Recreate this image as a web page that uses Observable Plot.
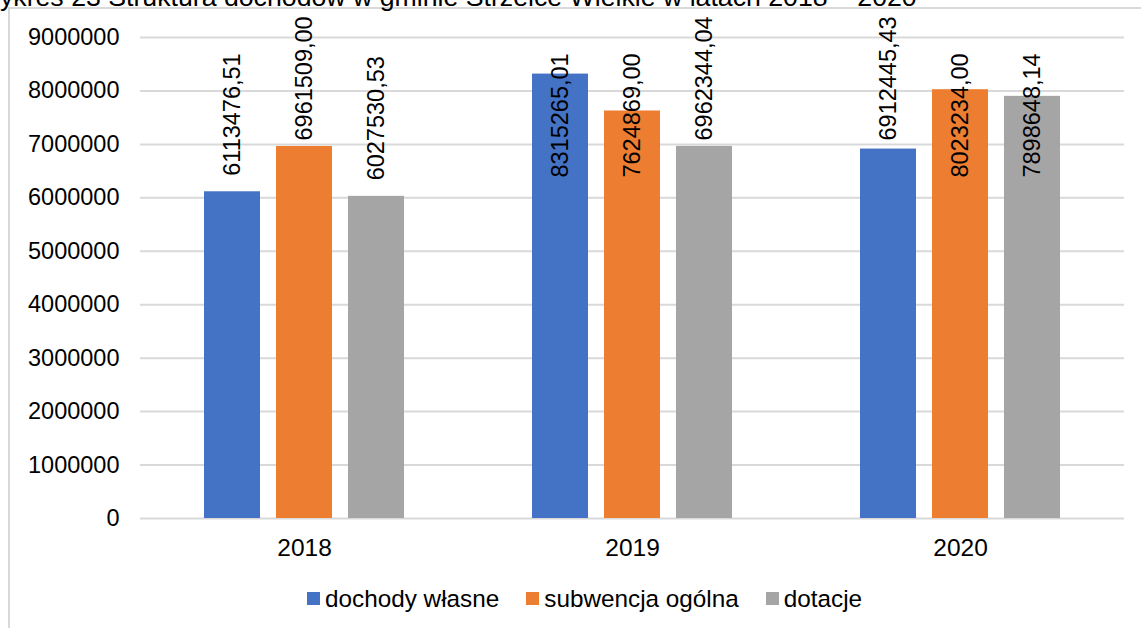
<!DOCTYPE html>
<html>
<head>
<meta charset="utf-8">
<script src="https://cdn.jsdelivr.net/npm/d3@7"></script>
<script src="https://cdn.jsdelivr.net/npm/@observablehq/plot@0.6"></script>
<style>
  html, body { margin: 0; padding: 0; background: #fff; overflow: hidden; }
  body { width: 1141px; height: 628px; position: relative; font-family: "Liberation Sans", Arial, sans-serif; }
  #title { position: absolute; left: -25px; top: -16.5px; font-size: 26.7px; line-height: 26.5px; white-space: nowrap; color: #000; }
  #frame { position: absolute; left: 8px; top: 7px; width: 1200px; height: 700px; border: 2px solid #d9d9d9; box-sizing: border-box; }
  #chart { position: absolute; left: 0; top: 0; }
  #chart svg { display: block; }
  #legend { position: absolute; left: 307px; top: 582px; }
  #legend [class$="-swatch"] { margin-right: 27px !important; }
  #legend [class$="-swatch"] > svg { margin-right: 5px !important; }
</style>
</head>
<body>
<div id="frame"></div>
<div id="title">Wykres 23 Struktura dochodów w gminie Strzelce Wielkie w latach 2018 – 2020</div>
<div id="chart"></div>
<div id="legend"></div>
<script>
const years = ["2018", "2019", "2020"];
const series = ["dochody własne", "subwencja ogólna", "dotacje"];
const dochodyWlasne = [6113476.51, 8315265.01, 6912445.43];
const subwencjaOgolna = [6961509.00, 7624869.00, 8023234.00];
const dotacje = [6027530.53, 6962344.04, 7898648.14];
const yTicks = [0, 1000000, 2000000, 3000000, 4000000, 5000000, 6000000, 7000000, 8000000, 9000000];
const colors = ["#4472C4", "#ED7D31", "#A5A5A5"];

const seriesValues = [dochodyWlasne, subwencjaOgolna, dotacje];
const data = [];
years.forEach((y, i) => {
  series.forEach((s, j) => {
    data.push({year: y, series: s, value: seriesValues[j][i]});
  });
});

const W = 1141, H = 565, mT = 37, mB = 47, mL = 139, mR = 17;
const yMax = 9000000;
const FS = 23.5;
const pxPerUnit = (H - mT - mB) / yMax;
// Excel-like label placement: outside end, pulled down if it would leave the plot area,
// put inside the bar when it cannot stay outside.
const gapPx = 16, labelLenPx = 124, topLimitPx = 16;
const topLimitVal = (H - mB - topLimitPx) / pxPerUnit;
function labelStart(v) {
  const natural = v + gapPx / pxPerUnit;
  const len = labelLenPx / pxPerUnit;
  if (natural + len <= topLimitVal) return natural;
  const clamped = topLimitVal - len;
  if (clamped >= v) return clamped;
  return 6380000;
}
const fmt = v => v.toFixed(2).replace(".", ",");

const chart = Plot.plot({
  width: W, height: H,
  marginTop: mT, marginBottom: mB, marginLeft: mL, marginRight: mR,
  style: {fontSize: FS + "px", fontFamily: "'Liberation Sans', Arial, sans-serif", color: "#000", background: "transparent"},
  fx: {domain: years, padding: 0, label: null},
  x: {domain: series, paddingInner: 0.22, paddingOuter: 0.87, axis: null},
  y: {domain: [0, yMax], ticks: yTicks, tickFormat: d3.format("d"), label: null, tickSize: 0, tickPadding: 21},
  color: {domain: series, range: colors},
  marks: [
    Plot.gridY(yTicks, {stroke: "#d9d9d9", strokeOpacity: 1, strokeWidth: 2}),
    Plot.barY(data, {fx: "year", x: "series", y: "value", fill: "series"}),
    Plot.text(data, {
      fx: "year", x: "series", y: d => labelStart(d.value), text: d => fmt(d.value),
      rotate: -90, textAnchor: "start", lineAnchor: "middle", fontSize: FS, fill: "#000"
    }),
    Plot.axisFx({anchor: "bottom", tickSize: 0, tickPadding: 20, fontSize: 24.5, label: null})
  ]
});
document.getElementById("chart").appendChild(chart);

const legend = Plot.legend({
  color: {type: "categorical", domain: series, range: colors},
  swatchSize: 13,
  style: {fontSize: "24.3px", fontFamily: "'Liberation Sans', Arial, sans-serif", color: "#000"}
});
document.getElementById("legend").appendChild(legend);
</script>
</body>
</html>
